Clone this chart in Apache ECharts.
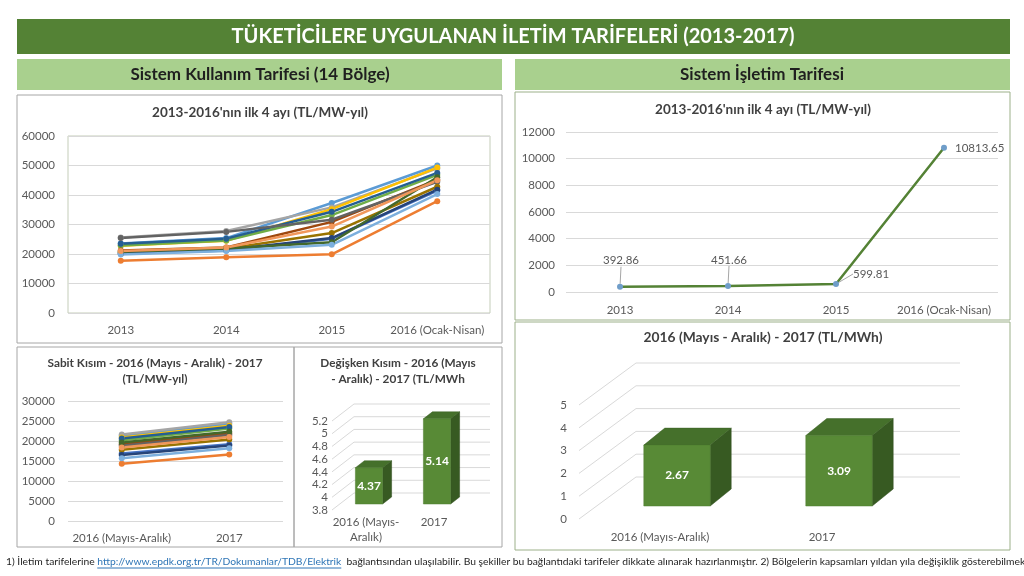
<!DOCTYPE html>
<html><head><meta charset="utf-8">
<script src="https://cdn.jsdelivr.net/npm/echarts@6/dist/echarts.min.js"></script>
<style>html,body{margin:0;padding:0;background:#fff}#c{width:1024px;height:576px}</style>
</head><body><div id="c"></div>
<script>
// ---------- DATA ----------
const kullanimCats = ['2013', '2014', '2015', '2016 (Ocak-Nisan)'];
const regionColors = ['#5B9BD5','#ED7D31','#A5A5A5','#FFC000','#4472C4','#70AD47','#255E91','#9E480E','#636363','#997300','#264478','#43682B','#7CAFDD','#F1975A'];
// 14 regions: values for 2013, 2014, 2015, 2016 (Ocak-Nisan)
const kullanimValues = [
  [23600, 25400, 37300, 50000],
  [17700, 18900, 19900, 37900],
  [25600, 27800, 35800, 49000],
  [22800, 24500, 35200, 49300],
  [20100, 21200, 25200, 41500],
  [22900, 24600, 33200, 46800],
  [23500, 25200, 34300, 47500],
  [21200, 22200, 30900, 45200],
  [25400, 27500, 31600, 44500],
  [20600, 21800, 27100, 42800],
  [20200, 21400, 25400, 41800],
  [20800, 21900, 24000, 46000],
  [19800, 21000, 23100, 40300],
  [21000, 22200, 29300, 45000]
];
const sabitCats = ['2016 (Mayıs-Aralık)', '2017'];
const sabitValues = [
  [21300, 24300],
  [14300, 16600],
  [21600, 24700],
  [20900, 23800],
  [16900, 19200],
  [20200, 23100],
  [20600, 23500],
  [19200, 21900],
  [18800, 21500],
  [17800, 20400],
  [16500, 18900],
  [19600, 22300],
  [15700, 18200],
  [18400, 21000]
];
const degiskenCats = ['2016 (Mayıs-\nAralık)', '2017'];
const degiskenValues = [4.37, 5.14];
const degiskenTicks = [3.8, 4, 4.2, 4.4, 4.6, 4.8, 5, 5.2];
const isletimCats = ['2013', '2014', '2015', '2016 (Ocak-Nisan)'];
const isletimValues = [392.86, 451.66, 599.81, 10813.65];
const isletim2Cats = ['2016 (Mayıs-Aralık)', '2017'];
const isletim2Values = [2.67, 3.09];
const isletim2Ticks = [0, 1, 2, 3, 4, 5];

const mainTitle = 'TÜKETİCİLERE UYGULANAN İLETİM TARİFELERİ (2013-2017)';
const leftHeader = 'Sistem Kullanım Tarifesi (14 Bölge)';
const rightHeader = 'Sistem İşletim Tarifesi';
const titleA = "2013-2016'nın ilk 4 ayı (TL/MW-yıl)";
const titleB = 'Sabit Kısım - 2016 (Mayıs - Aralık) - 2017\n(TL/MW-yıl)';
const titleC = 'Değişken Kısım - 2016 (Mayıs\n- Aralık) - 2017 (TL/MWh';
const titleD = "2013-2016'nın ilk 4 ayı (TL/MW-yıl)";
const titleE = '2016 (Mayıs - Aralık) - 2017 (TL/MWh)';
const noteA = '1) İletim tarifelerine ';
const noteLink = 'http://www.epdk.org.tr/TR/Dokumanlar/TDB/Elektrik';
const noteB = '  bağlantısından ulaşılabilir. Bu şekiller bu bağlantıdaki tarifeler dikkate alınarak hazırlanmıştır. 2) Bölgelerin kapsamları yıldan yıla değişiklik gösterebilmektedir.';

// ---------- STYLE ----------
const FONT = 'Lato';
const labelColor = '#595959';
const gridLine = '#D9D9D9';
const chart = echarts.init(document.getElementById('c'));

function measure(text, font) {
  const ctx = document.createElement('canvas').getContext('2d');
  ctx.font = font;
  return ctx.measureText(text).width;
}

function valAxis(gi, min, max, interval, margin) {
  return { type: 'value', gridIndex: gi, min, max, interval,
    axisLine: { show: false }, axisTick: { show: false },
    splitLine: { show: true, lineStyle: { color: gridLine, width: 1 } },
    axisLabel: { color: labelColor, fontSize: 11.5, fontFamily: FONT, margin,
      formatter: v => String(Math.round(v * 100) / 100) } };
}
function catAxis(gi, data, margin) {
  return { type: 'category', gridIndex: gi, data, boundaryGap: true,
    axisLine: { show: false }, axisTick: { show: false },
    axisLabel: { color: labelColor, fontSize: 11.5, fontFamily: FONT, margin, interval: 0, lineHeight: 15 } };
}

// 3D walls (back + side gridlines), drawn from the axis scale
function wallSeries(xi, ticks, DX, DY) {
  return { type: 'custom', xAxisIndex: xi, yAxisIndex: xi, silent: true, z: 1,
    data: ticks.map(v => [0, v]),
    renderItem: function (params, api) {
      const cs = params.coordSys;
      const y = api.coord([0, api.value(1)])[1];
      const x0 = cs.x;
      return { type: 'polyline', shape: { points: [[x0, y], [x0 + DX, y - DY], [x0 + DX + cs.width, y - DY]] },
        style: { stroke: '#D9D9D9', lineWidth: 1, fill: null } };
    } };
}
function bar3DSeries(xi, values, yMin, ratio, offX, offY, dx, dy) {
  return { type: 'custom', xAxisIndex: xi, yAxisIndex: xi, z: 3,
    data: values.map((v, i) => [i, v]),
    renderItem: function (params, api) {
      const i = api.value(0), v = api.value(1);
      const top = api.coord([i, v]);
      const base = api.coord([i, yMin]);
      const w = api.size([1, 0])[0] * ratio;
      const cx = top[0] + offX, yt = top[1] + offY, yb = base[1] + offY;
      const l = cx - w / 2, r = cx + w / 2;
      return { type: 'group', children: [
        { type: 'polygon', shape: { points: [[r, yt], [r + dx, yt - dy], [r + dx, yb - dy], [r, yb]] }, style: { fill: '#375A22', stroke: '#2F4D1D', lineWidth: 0.5 } },
        { type: 'polygon', shape: { points: [[l, yt], [r, yt], [r + dx, yt - dy], [l + dx, yt - dy]] }, style: { fill: '#45702B', stroke: '#3A6024', lineWidth: 0.5 } },
        { type: 'rect', shape: { x: l, y: yt, width: w, height: yb - yt }, style: { fill: '#588A36', stroke: '#4E7C30', lineWidth: 0.5 } },
        { type: 'text', x: cx, y: (yt + yb) / 2, style: { text: String(v), fill: '#fff', font: 'bold 12px ' + FONT, align: 'center', verticalAlign: 'middle' } }
      ] };
    } };
}

const series = [];
kullanimValues.forEach((vals, k) => {
  series.push({ type: 'line', xAxisIndex: 0, yAxisIndex: 0, data: vals, symbol: 'circle', symbolSize: 6,
    lineStyle: { width: 2.5, color: regionColors[k] }, itemStyle: { color: regionColors[k] }, z: 2 });
});
sabitValues.forEach((vals, k) => {
  series.push({ type: 'line', xAxisIndex: 2, yAxisIndex: 2, data: vals, symbol: 'circle', symbolSize: 6,
    lineStyle: { width: 2.5, color: regionColors[k] }, itemStyle: { color: regionColors[k] }, z: 2 });
});
series.push({ type: 'line', xAxisIndex: 1, yAxisIndex: 1,
  data: isletimValues.map((v, i) => i === isletimValues.length - 1 ? { value: v, labelLine: { show: false } } : v),
  symbol: 'circle', symbolSize: 6,
  lineStyle: { width: 2.5, color: '#548235' }, itemStyle: { color: '#6F9DC9' }, z: 3,
  label: { show: true, color: labelColor, fontSize: 11.5, fontFamily: FONT,
    position: 'right', distance: 8 },
  labelLine: { show: true, lineStyle: { color: '#A6A6A6', width: 1 } },
  labelLayout: function (p) {
    if (p.dataIndex < 2) return { dx: -(p.labelRect.width / 2) - 10, dy: -26 };
    if (p.dataIndex === 2) return { dx: 6, dy: -10 };
    return {};
  } });
series.push(wallSeries(3, degiskenTicks, 22, 17));
series.push(bar3DSeries(3, degiskenValues, 3.8, 0.4, 3, -6, 9, 7));
series.push(wallSeries(4, isletim2Ticks, 57, 42));
series.push(bar3DSeries(4, isletim2Values, 0, 0.41, 17, -13, 21, 17));

const noteFont = '10.3px ' + FONT;
const noteX = 6;
const wA = measure(noteA, noteFont);
const wL = measure(noteLink, noteFont);

function boxRect(x, y, w, h, stroke) {
  return { type: 'rect', shape: { x, y, width: w, height: h }, style: { fill: 'none', stroke, lineWidth: 1 }, z: 0 };
}
function ctext(x, y, text, font, fill, lh) {
  return { type: 'text', x, y, style: { text, font, fill, align: 'center', verticalAlign: 'middle', lineHeight: lh || 16 }, z: 10 };
}

const option = {
  animation: false,
  backgroundColor: '#fff',
  grid: [
    { left: 68, top: 136, width: 422, height: 177, show: true, borderColor: '#C4CDB9', borderWidth: 1 },
    { left: 566, top: 132, width: 432, height: 160 },
    { left: 68, top: 401, width: 215, height: 120 },
    { left: 332, top: 421, width: 136, height: 89 },
    { left: 579, top: 405, width: 324, height: 114 }
  ],
  xAxis: [
    catAxis(0, kullanimCats, 10),
    catAxis(1, isletimCats, 11),
    catAxis(2, sabitCats, 10),
    catAxis(3, degiskenCats, 5),
    catAxis(4, isletim2Cats, 11)
  ],
  yAxis: [
    valAxis(0, 0, 60000, 10000, 13),
    valAxis(1, 0, 12000, 2000, 11),
    valAxis(2, 0, 30000, 5000, 13),
    Object.assign(valAxis(3, 3.8, 5.2, 0.2, 4), { splitLine: { show: false } }),
    Object.assign(valAxis(4, 0, 5, 1, 12), { splitLine: { show: false } })
  ],
  series,
  graphic: [
    { type: 'rect', shape: { x: 17, y: 19, width: 993, height: 35 }, style: { fill: '#548235' }, z: 0 },
    ctext(513, 37, mainTitle, 'bold 20px ' + FONT, '#FFFFFF'),
    { type: 'rect', shape: { x: 17, y: 59, width: 485, height: 31 }, style: { fill: '#A9D08E' }, z: 0 },
    { type: 'rect', shape: { x: 515, y: 59, width: 495, height: 31 }, style: { fill: '#A9D08E' }, z: 0 },
    ctext(260, 75, leftHeader, 'bold 17px ' + FONT, '#1F1F1F'),
    ctext(762, 75, rightHeader, 'bold 17px ' + FONT, '#1F1F1F'),
    boxRect(17, 95, 485, 248, '#A6A6A6'),
    boxRect(17, 347, 277, 200, '#A6A6A6'),
    boxRect(294, 347, 208, 200, '#A6A6A6'),
    boxRect(515, 92, 495, 228, '#9CB089'),
    boxRect(515, 322, 495, 228, '#9CB089'),
    ctext(260, 113, titleA, 'bold 13.5px ' + FONT, '#404040'),
    ctext(763, 110, titleD, 'bold 13.5px ' + FONT, '#404040'),
    ctext(155, 371, titleB, 'bold 11.8px ' + FONT, '#404040', 16),
    ctext(398, 371, titleC, 'bold 11.8px ' + FONT, '#404040', 16),
    ctext(763, 338, titleE, 'bold 13.8px ' + FONT, '#404040'),
    { type: 'text', x: noteX, y: 562, style: { text: noteA, font: noteFont, fill: '#1F1F1F', verticalAlign: 'middle' }, z: 10 },
    { type: 'text', x: noteX + wA, y: 562, style: { text: noteLink, font: noteFont, fill: '#2E75B6', verticalAlign: 'middle' }, z: 10 },
    { type: 'line', shape: { x1: noteX + wA, y1: 568, x2: noteX + wA + wL, y2: 568 }, style: { stroke: '#2E75B6', lineWidth: 1 }, z: 10 },
    { type: 'text', x: noteX + wA + wL, y: 562, style: { text: noteB, font: noteFont, fill: '#1F1F1F', verticalAlign: 'middle' }, z: 10 }
  ]
};
chart.setOption(option);
</script>
</body></html>
